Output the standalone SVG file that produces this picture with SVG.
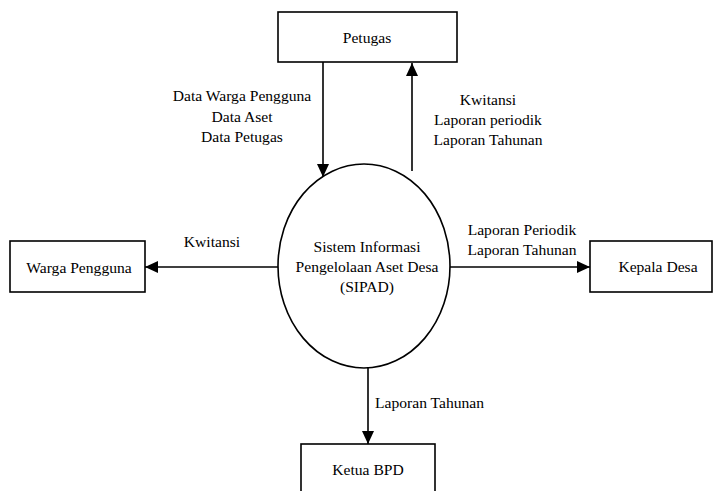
<svg xmlns="http://www.w3.org/2000/svg" width="715" height="491" viewBox="0 0 715 491" font-family="Liberation Serif, Times New Roman, serif">
<style>
.box{fill:#fff;stroke:#000;stroke-width:1.6}
.proc{fill:#fff;stroke:#000;stroke-width:1.6}
.flow{fill:none;stroke:#000;stroke-width:1.6}
text{font-family:'Liberation Serif','Times New Roman',serif;font-size:15.6px;fill:#000}
.c{text-anchor:middle}
</style>
<defs>
<marker id="ah" markerUnits="userSpaceOnUse" markerWidth="14" markerHeight="12" refX="13" refY="6" orient="auto">
<path d="M0,0 L13,6 L0,12 Z" fill="#000"/>
</marker>
</defs>
<rect width="715" height="491" fill="#fff"/>
<g id="connectors">
<line class="flow" x1="323" y1="62" x2="323" y2="177" marker-end="url(#ah)"/>
<line class="flow" x1="412" y1="171" x2="412" y2="63" marker-end="url(#ah)"/>
<line class="flow" x1="278" y1="267" x2="145" y2="267" marker-end="url(#ah)"/>
<line class="flow" x1="450" y1="267" x2="590" y2="267" marker-end="url(#ah)"/>
<line class="flow" x1="368" y1="368" x2="368" y2="444" marker-end="url(#ah)"/>
<text class="c" x="242" y="101">Data Warga Pengguna</text>
<text class="c" x="242" y="122">Data Aset</text>
<text class="c" x="242" y="142">Data Petugas</text>
<text class="c" x="488" y="105">Kwitansi</text>
<text class="c" x="488" y="125">Laporan periodik</text>
<text class="c" x="488" y="145">Laporan Tahunan</text>
<text class="c" x="212" y="247">Kwitansi</text>
<text class="c" x="522" y="235">Laporan Periodik</text>
<text class="c" x="522" y="255">Laporan Tahunan</text>
<text x="375" y="408">Laporan Tahunan</text>
</g>
<g id="petugas">
<rect class="box" x="278" y="12" width="179" height="50"/>
<text class="c" x="367" y="43">Petugas</text>
</g>
<g id="sipad">
<ellipse class="proc" cx="364" cy="266" rx="86" ry="102"/>
<text class="c" x="367" y="252">Sistem Informasi</text>
<text class="c" x="367" y="272">Pengelolaan Aset Desa</text>
<text class="c" x="367" y="292">(SIPAD)</text>
</g>
<g id="warga">
<rect class="box" x="10" y="241" width="135" height="51"/>
<text class="c" x="79" y="273">Warga Pengguna</text>
</g>
<g id="kepala">
<rect class="box" x="590" y="241" width="122" height="51"/>
<text class="c" x="658" y="272">Kepala Desa</text>
</g>
<g id="ketua">
<rect class="box" x="301" y="444" width="134" height="60"/>
<text class="c" x="368" y="475">Ketua BPD</text>
</g>
</svg>
